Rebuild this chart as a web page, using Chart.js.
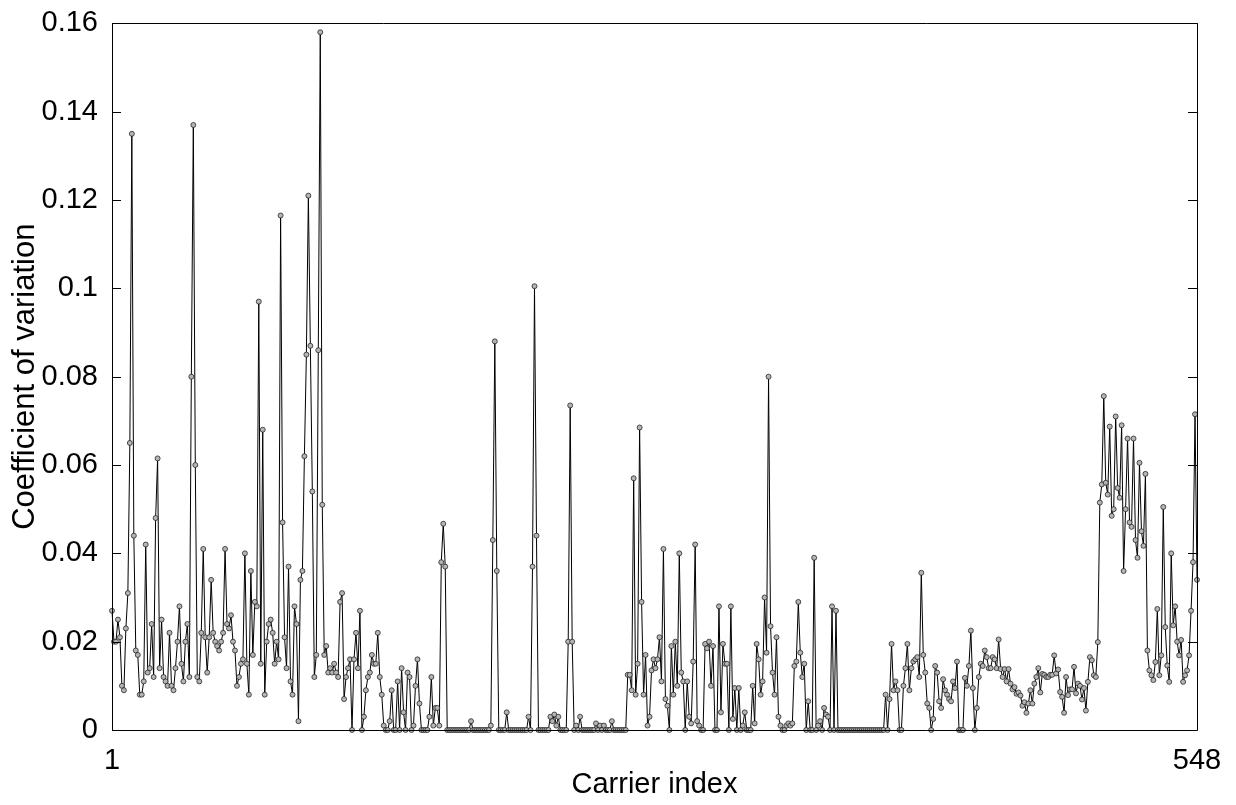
<!DOCTYPE html>
<html>
<head>
<meta charset="utf-8">
<script src="https://cdn.jsdelivr.net/npm/chart.js@4/dist/chart.umd.min.js"></script>
<style>
  html, body { margin: 0; padding: 0; background: #fff; }
  #wrap { width: 1236px; height: 805px; }
  canvas { display: block; }
</style>
</head>
<body>
<div id="wrap"><canvas id="c" width="1236" height="805"></canvas></div>
<script>
// Coefficient of variation per carrier (carriers 1..548)
const cv001_050 = [
  0.027, 0.020, 0.020, 0.025, 0.021, 0.010, 0.009, 0.023, 0.031, 0.065,
  0.135, 0.044, 0.018, 0.017, 0.008, 0.008, 0.011, 0.042, 0.013, 0.014,
  0.024, 0.012, 0.048, 0.0615, 0.014, 0.025, 0.012, 0.011, 0.010, 0.022,
  0.010, 0.009, 0.014, 0.020, 0.028, 0.015, 0.011, 0.020, 0.024, 0.012,
  0.080, 0.137, 0.060, 0.012, 0.011, 0.022, 0.041, 0.021, 0.013, 0.021
];
const cv051_100 = [
  0.034, 0.022, 0.020, 0.019, 0.018, 0.020, 0.022, 0.041, 0.024, 0.023,
  0.026, 0.020, 0.018, 0.010, 0.012, 0.015, 0.016, 0.040, 0.015, 0.008,
  0.036, 0.017, 0.029, 0.028, 0.097, 0.015, 0.068, 0.008, 0.020, 0.024,
  0.025, 0.022, 0.015, 0.020, 0.016, 0.1165, 0.047, 0.021, 0.014, 0.037,
  0.011, 0.008, 0.028, 0.024, 0.002, 0.034, 0.036, 0.062, 0.085, 0.121
];
const cv101_150 = [
  0.087, 0.054, 0.012, 0.017, 0.086, 0.158, 0.051, 0.017, 0.019, 0.013,
  0.014, 0.013, 0.015, 0.013, 0.012, 0.029, 0.031, 0.007, 0.012, 0.014,
  0.016, 0.000, 0.016, 0.022, 0.014, 0.027, 0.000, 0.003, 0.009, 0.012,
  0.013, 0.017, 0.015, 0.015, 0.022, 0.012, 0.008, 0.001, 0.000, 0.000,
  0.002, 0.009, 0.000, 0.000, 0.011, 0.000, 0.014, 0.004, 0.000, 0.013
];
const cv151_200 = [
  0.012, 0.000, 0.001, 0.010, 0.016, 0.006, 0.000, 0.000, 0.000, 0.000,
  0.003, 0.012, 0.001, 0.005, 0.005, 0.001, 0.038, 0.0467, 0.037, 0.000,
  0, 0, 0, 0, 0, 0, 0, 0, 0, 0,
  0, 0.002, 0, 0, 0, 0, 0, 0, 0, 0,
  0, 0.001, 0.043, 0.088, 0.036, 0, 0, 0, 0, 0.004
];
const cv201_250 = [
  0, 0, 0, 0, 0, 0, 0, 0, 0, 0,
  0.003, 0.000, 0.037, 0.1005, 0.044, 0, 0, 0, 0, 0,
  0, 0.003, 0.002, 0.0035, 0.001, 0.003, 0, 0, 0, 0,
  0.020, 0.0735, 0.020, 0, 0.001, 0, 0.003, 0, 0, 0,
  0, 0, 0, 0, 0.0015, 0, 0.001, 0, 0.001, 0
];
const cv251_300 = [
  0, 0, 0.002, 0, 0, 0, 0, 0, 0, 0,
  0.0125, 0.0125, 0.009, 0.057, 0.008, 0.015, 0.0685, 0.029, 0.008, 0.017,
  0.001, 0.003, 0.0135, 0.016, 0.014, 0.016, 0.021, 0.011, 0.041, 0.007,
  0.0055, 0.000, 0.019, 0.008, 0.020, 0.010, 0.040, 0.013, 0.011, 0.000,
  0.011, 0.003, 0.0015, 0.0155, 0.042, 0.002, 0.001, 0.000, 0.000, 0.0195
];
const cv301_350 = [
  0.0185, 0.020, 0.010, 0.019, 0.000, 0.000, 0.028, 0.004, 0.0195, 0.015,
  0.015, 0.000, 0.028, 0.0025, 0.0095, 0.000, 0.0095, 0.000, 0.001, 0.004,
  0, 0, 0, 0.010, 0.0015, 0.0195, 0.016, 0.008, 0.011, 0.030,
  0.0175, 0.080, 0.0235, 0.013, 0.008, 0.021, 0.003, 0.001, 0, 0,
  0.001, 0.0015, 0.001, 0.0015, 0.0145, 0.0155, 0.029, 0.0175, 0.012, 0.015
];
const cv351_400 = [
  0, 0.0065, 0, 0, 0.039, 0, 0.001, 0.002, 0, 0.005,
  0.0035, 0.003, 0, 0.028, 0, 0.027, 0, 0, 0, 0,
  0, 0, 0, 0, 0, 0, 0, 0, 0, 0,
  0, 0, 0, 0, 0, 0, 0, 0, 0, 0,
  0.008, 0, 0.007, 0.0195, 0.009, 0.011, 0.009, 0, 0, 0.010
];
const cv401_450 = [
  0.014, 0.0195, 0.009, 0.014, 0.0155, 0.016, 0.0165, 0.012, 0.0356, 0.017,
  0.013, 0.006, 0.005, 0, 0.0025, 0.0145, 0.013, 0.0065, 0.005, 0.0115,
  0.009, 0.008, 0.007, 0.0065, 0.011, 0.0095, 0.0155, 0, 0, 0,
  0.0118, 0.010, 0.0145, 0.0225, 0.0095, 0, 0.005, 0.012, 0.015, 0.0145,
  0.018, 0.0165, 0.014, 0.014, 0.0165, 0.016, 0.014, 0.0205, 0.0138, 0.012
];
const cv451_498 = [
  0.0138, 0.011, 0.0138, 0.0105, 0.0092, 0.0097, 0.0082, 0.0085, 0.0078, 0.0055,
  0.0063, 0.0039, 0.006, 0.009, 0.006, 0.0105, 0.012, 0.014, 0.0085, 0.0127,
  0.0125, 0.012, 0.012, 0.0125, 0.0125, 0.0169, 0.0128, 0.0137, 0.0086, 0.0075,
  0.0039, 0.012, 0.0079, 0.0092, 0.0092, 0.0143, 0.0083, 0.0105, 0.010, 0.0069,
  0.0095, 0.0044, 0.0109, 0.0165, 0.0158, 0.0124, 0.012, 0.0199
];
const cv499_548 = [
  0.0515, 0.0556, 0.0756, 0.056, 0.0533, 0.0687, 0.0485, 0.050, 0.071, 0.0548,
  0.0526, 0.069, 0.036, 0.050, 0.066, 0.047, 0.046, 0.066, 0.043, 0.039,
  0.0605, 0.045, 0.0417, 0.058, 0.018, 0.0135, 0.0124, 0.0113, 0.0154, 0.0274,
  0.0124, 0.0169, 0.0505, 0.0233, 0.0146, 0.0109, 0.040, 0.0237, 0.028, 0.020,
  0.0169, 0.0204, 0.0109, 0.0124, 0.0135, 0.0169, 0.027, 0.038, 0.0715, 0.034
];

const cvValues = [].concat(cv001_050, cv051_100, cv101_150, cv151_200, cv201_250,
  cv251_300, cv301_350, cv351_400, cv401_450, cv451_498, cv499_548);

const xTickValues = [1, 548];
const xTickLabels = ['1', '548'];
const yTickValues = [0, 0.02, 0.04, 0.06, 0.08, 0.1, 0.12, 0.14, 0.16];
const yTickLabels = ['0', '0.02', '0.04', '0.06', '0.08', '0.1', '0.12', '0.14', '0.16'];
const xTitle = 'Carrier index';
const yTitle = 'Coefficient of variation';

const points = cvValues.map((v, k) => ({ x: k + 1, y: v }));

const FONT = 'Liberation Sans, Arial, Helvetica, sans-serif';

const framePlugin = {
  id: 'frame',
  afterDatasetsDraw(chart) {
    const { ctx, chartArea: a, scales } = chart;
    ctx.save();
    ctx.strokeStyle = '#000';
    ctx.lineWidth = 1;
    ctx.beginPath();
    ctx.rect(Math.round(a.left) + 0.5, Math.round(a.top) + 0.5,
             Math.round(a.right - a.left), Math.round(a.bottom - a.top));
    ctx.stroke();
    const tl = 9;
    ctx.beginPath();
    yTickValues.forEach(v => {
      const y = Math.round(scales.y.getPixelForValue(v)) + 0.5;
      ctx.moveTo(a.left, y); ctx.lineTo(a.left + tl, y);
      ctx.moveTo(a.right, y); ctx.lineTo(a.right - tl, y);
    });
    xTickValues.forEach(v => {
      const x = Math.round(scales.x.getPixelForValue(v)) + 0.5;
      ctx.moveTo(x, a.bottom); ctx.lineTo(x, a.bottom - tl);
      ctx.moveTo(x, a.top); ctx.lineTo(x, a.top + tl);
    });
    ctx.stroke();
    ctx.restore();
  }
};

new Chart(document.getElementById('c'), {
  type: 'line',
  data: {
    datasets: [{
      data: points,
      borderColor: '#000',
      borderWidth: 1,
      pointRadius: 2.5,
      pointHoverRadius: 2.5,
      pointBackgroundColor: '#b4b4b4',
      pointBorderColor: '#111',
      pointBorderWidth: 0.7,
      tension: 0,
      clip: false
    }]
  },
  options: {
    responsive: false,
    animation: false,
    events: [],
    layout: { padding: { left: 0, top: 20, right: 39, bottom: 0 } },
    plugins: { legend: { display: false }, tooltip: { enabled: false } },
    scales: {
      x: {
        type: 'linear',
        min: 1, max: 548,
        afterBuildTicks: s => { s.ticks = xTickValues.map(v => ({ value: v })); },
        afterFit: s => { s.height = 75; },
        grid: { display: false },
        border: { display: false },
        ticks: {
          autoSkip: false, maxRotation: 0,
          color: '#000', padding: 6,
          font: { family: FONT, size: 29 },
          callback: (v) => xTickLabels[xTickValues.indexOf(v)]
        },
        title: {
          display: true, text: xTitle, color: '#000',
          font: { family: FONT, size: 29 },
          padding: { top: 0, bottom: 3 }
        }
      },
      y: {
        min: 0, max: 0.16,
        afterBuildTicks: s => { s.ticks = yTickValues.map(v => ({ value: v })); },
        afterFit: s => { s.width = 112; },
        grid: { display: false },
        border: { display: false },
        ticks: {
          color: '#000', padding: 6,
          font: { family: FONT, size: 29 },
          callback: (v) => yTickLabels[yTickValues.indexOf(v)]
        },
        title: {
          display: true, text: yTitle, color: '#000',
          font: { family: FONT, size: 31 },
          padding: { top: 7, bottom: 0 }
        }
      }
    }
  },
  plugins: [framePlugin]
});
</script>
</body>
</html>
